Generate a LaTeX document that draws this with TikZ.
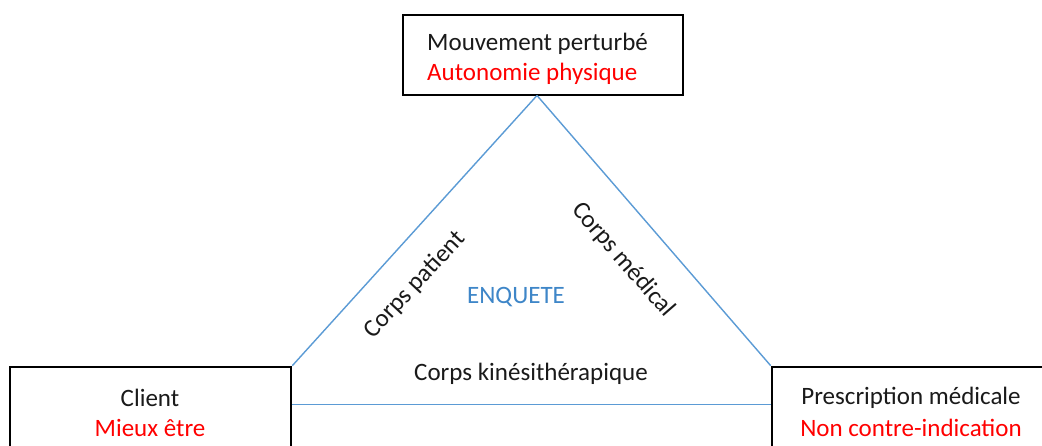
\documentclass[tikz,border=0pt]{standalone}
\usepackage{fontspec}
\setmainfont{Carlito}
\usetikzlibrary{calc}
\definecolor{lineblue}{HTML}{5B9BD5}
\definecolor{enqblue}{HTML}{3E86C8}
\definecolor{txtred}{HTML}{FF0000}
\definecolor{txtdark}{HTML}{1A1A1A}
\tikzset{
  box/.style={draw=black, line width=2.6pt, rectangle, inner sep=0pt},
  link/.style={draw=lineblue, line width=1.4pt},
  lab/.style={font=\fontsize{25}{29}\selectfont, text=txtdark, inner sep=0pt},
  redlab/.style={font=\fontsize{25}{29}\selectfont, text=txtred, inner sep=0pt},
}
\begin{document}
\begin{tikzpicture}[x=1pt,y=-1pt]
\clip (0,0) rectangle (1042,446);
\fill[white] (0,0) rectangle (1042,446);
% boxes
\node[box, minimum width=280pt, minimum height=80pt] (top) at (543,55) {};
\node[box, minimum width=281pt, minimum height=100pt] (left) at (150.5,417) {};
\node[box, minimum width=290pt, minimum height=100pt] (right) at (917,417) {};
\coordinate (apex) at (537,95.5);
% connectors
\draw[link] (apex) -- (left.north east);
\draw[link] (apex) -- (right.north west);
\draw[link] ($(left.north east)+(0,39)$) -- ($(right.north west)+(0,39)$);
% texts
\node[lab, anchor=west] (t1) at (427,44) {Mouvement perturbé};
\node[redlab, anchor=west] (t2) at (427,74) {Autonomie physique};
\node[lab] (l1) at (150,398) {Client};
\node[redlab] (l2) at (150,428) {Mieux être};
\node[lab] (r1) at (911,398) {Prescription médicale};
\node[redlab] (r2) at (911,428) {Non contre-indication};
\node[font=\fontsize{25}{29}\selectfont, text=enqblue, inner sep=0pt] (enq) at (516,297) {ENQUETE};
\node[lab] (kin) at (531,374) {Corps kinésithérapique};
\node[lab, rotate=47] (pat) at (415,285) {Corps patient};
\node[lab, rotate=-49] (med) at (623,260) {Corps médical};
\end{tikzpicture}
\end{document}
